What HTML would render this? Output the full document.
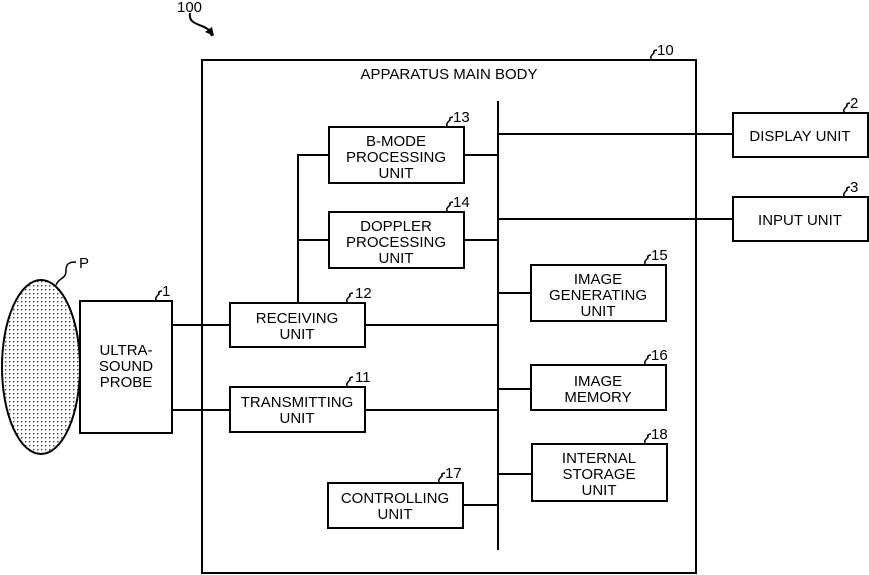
<!DOCTYPE html>
<html><head><meta charset="utf-8"><style>
html,body{margin:0;padding:0;background:#fff;}
svg{display:block;}
text{font-family:"Liberation Sans",Arial,sans-serif;font-size:15px;fill:#000;}
</style></head><body>
<svg width="869" height="575" viewBox="0 0 869 575" xmlns="http://www.w3.org/2000/svg">
<defs>
<pattern id="dots" width="4" height="4" patternUnits="userSpaceOnUse">
<rect width="4" height="4" fill="#fff"/><rect x="1" y="1" width="1.4" height="1.4" fill="#444"/>
</pattern>
</defs>
<g stroke="#000" stroke-width="2" fill="none">
<!-- 100 arrow -->
<path d="M190 13 C188 24 200 24 206 28 C210 30 210 32 212 36"/>
<!-- main body -->
<rect x="202" y="60" width="494" height="513"/>
<!-- bus -->
<line x1="498" y1="101" x2="498" y2="550"/>
<!-- boxes -->
<rect x="329" y="127" width="135" height="56"/>
<rect x="329" y="212" width="135" height="56"/>
<rect x="230" y="303" width="135" height="44"/>
<rect x="230" y="387" width="135" height="45"/>
<rect x="80" y="301" width="92" height="132"/>
<rect x="531" y="265" width="135" height="56"/>
<rect x="531" y="365" width="135" height="45"/>
<rect x="532" y="444" width="135" height="57"/>
<rect x="328" y="483" width="135" height="45"/>
<rect x="733" y="113" width="135" height="44"/>
<rect x="733" y="197" width="135" height="44"/>
<!-- connectors -->
<line x1="464" y1="155" x2="498" y2="155"/>
<line x1="464" y1="240" x2="498" y2="240"/>
<polyline points="329,155 298,155 298,303"/>
<line x1="298" y1="240" x2="329" y2="240"/>
<line x1="172" y1="325" x2="230" y2="325"/>
<line x1="365" y1="325" x2="498" y2="325"/>
<line x1="172" y1="410" x2="230" y2="410"/>
<line x1="365" y1="410" x2="498" y2="410"/>
<line x1="498" y1="293" x2="531" y2="293"/>
<line x1="498" y1="389" x2="531" y2="389"/>
<line x1="498" y1="474" x2="532" y2="474"/>
<line x1="463" y1="505" x2="498" y2="505"/>
<line x1="498" y1="134" x2="733" y2="134"/>
<line x1="498" y1="219" x2="733" y2="219"/>
<!-- squiggles -->
<path d="M56 285 C60 276 66 280 66 270 C66 262 72 262 76 262" stroke-width="1.5"/>
<g stroke-width="1.5">
<path d="M157 301 c-3-3 0-5 2-7 c-1-2 1-3 3-3"/>
<path d="M348 303 c-3-3 0-5 2-7 c-1-2 1-3 3-3"/>
<path d="M348 387 c-3-3 0-5 2-7 c-1-2 1-3 3-3"/>
<path d="M448 127 c-3-3 0-5 2-7 c-1-2 1-3 3-3"/>
<path d="M448 212 c-3-3 0-5 2-7 c-1-2 1-3 3-3"/>
<path d="M646 265 c-3-3 0-5 2-7 c-1-2 1-3 3-3"/>
<path d="M646 365 c-3-3 0-5 2-7 c-1-2 1-3 3-3"/>
<path d="M646 444 c-3-3 0-5 2-7 c-1-2 1-3 3-3"/>
<path d="M440 483 c-3-3 0-5 2-7 c-1-2 1-3 3-3"/>
<path d="M652 60 c-3-3 0-5 2-7 c-1-2 1-3 3-3"/>
<path d="M845 113 c-3-3 0-5 2-7 c-1-2 1-3 3-3"/>
<path d="M845 197 c-3-3 0-5 2-7 c-1-2 1-3 3-3"/>
</g>
</g>
<path d="M205 32 L214 36 L212 27 Z" fill="#000"/>
<ellipse cx="41" cy="367" rx="39" ry="87" fill="url(#dots)" stroke="#000" stroke-width="2"/>
<text x="177" y="12">100</text>
<text x="79" y="268">P</text>
<text x="162" y="296">1</text>
<text x="355" y="298">12</text>
<text x="355" y="382">11</text>
<text x="453" y="122">13</text>
<text x="453" y="207">14</text>
<text x="651" y="260">15</text>
<text x="651" y="360">16</text>
<text x="651" y="439">18</text>
<text x="445" y="478">17</text>
<text x="657" y="55">10</text>
<text x="850" y="108">2</text>
<text x="850" y="192">3</text>
<g text-anchor="middle">
<text x="449" y="79">APPARATUS MAIN BODY</text>
<text x="396" y="146">B-MODE</text><text x="396" y="162">PROCESSING</text><text x="396" y="178">UNIT</text>
<text x="396" y="231">DOPPLER</text><text x="396" y="247">PROCESSING</text><text x="396" y="263">UNIT</text>
<text x="297" y="323">RECEIVING</text><text x="297" y="339">UNIT</text>
<text x="297" y="407">TRANSMITTING</text><text x="297" y="423">UNIT</text>
<text x="126" y="355">ULTRA-</text><text x="126" y="371">SOUND</text><text x="126" y="387">PROBE</text>
<text x="598" y="284">IMAGE</text><text x="598" y="300">GENERATING</text><text x="598" y="316">UNIT</text>
<text x="598" y="386">IMAGE</text><text x="598" y="402">MEMORY</text>
<text x="599" y="463">INTERNAL</text><text x="599" y="479">STORAGE</text><text x="599" y="495">UNIT</text>
<text x="395" y="503">CONTROLLING</text><text x="395" y="519">UNIT</text>
<text x="800" y="141">DISPLAY UNIT</text>
<text x="800" y="225">INPUT UNIT</text>
</g>
</svg>
</body></html>
